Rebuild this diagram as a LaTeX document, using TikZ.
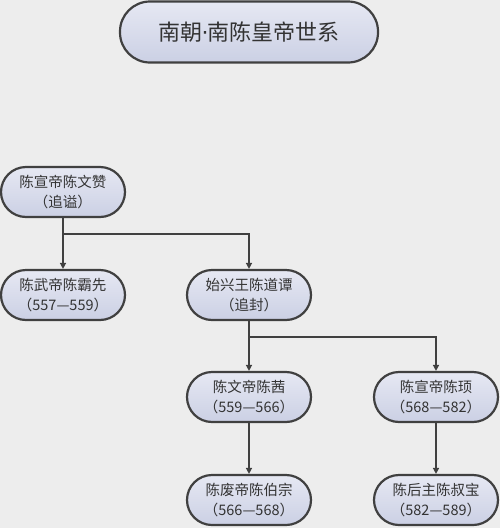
\documentclass[tikz,border=0pt]{standalone}
\usepackage{fontspec}
\setmainfont{Noto Sans CJK SC}
\newfontfamily\latinfont{DejaVu Sans}
\usetikzlibrary{arrows.meta}
\definecolor{bg}{HTML}{EDEDED}
\definecolor{edge}{HTML}{404040}
\definecolor{fillA}{HTML}{E6E8F3}
\definecolor{fillB}{HTML}{CBD0E4}
\tikzset{
  pill/.style={draw=edge, line width=2.2pt, rounded corners=25pt, top color=fillA, bottom color=fillB,
    minimum width=124pt, minimum height=50pt, inner sep=0pt, align=center, font=\fontsize{14.5pt}{20pt}\selectfont, text=black!80},
  titlebox/.style={pill, minimum width=258pt, minimum height=61pt, rounded corners=30pt, font=\fontsize{22pt}{26pt}\selectfont},
  conn/.style={draw=edge, line width=2pt},
  arr/.style={conn, -{Triangle[length=6pt,width=6pt]}}
}
\begin{document}
\begin{tikzpicture}[x=1pt,y=-1pt]
\fill[bg] (0,0) rectangle (500,528);
\useasboundingbox (0,0) rectangle (500,528);
\node[titlebox] (t) at (249,32) {南朝{\latinfont\kern-1pt·\kern-1pt}南陈皇帝世系};
\node[pill] (a) at (63,192) {陈宣帝陈文赞\\（追谥）};
\node[pill] (b) at (63,295) {陈武帝陈霸先\\（557—559）};
\node[pill] (c) at (249,295) {始兴王陈道谭\\（追封）};
\node[pill] (d) at (249,397) {陈文帝陈茜\\（559—566）};
\node[pill] (e) at (436,397) {陈宣帝陈顼\\（568—582）};
\node[pill] (f) at (249,500) {陈废帝陈伯宗\\（566—568）};
\node[pill] (g) at (436,500) {陈后主陈叔宝\\（582—589）};
\coordinate (j1) at (63,234);
\coordinate (j2) at (249,337);
\draw[conn] (a.south) -- (j1);
\draw[arr] (j1) -- (b.north);
\draw[arr] (j1) -| (c.north);
\draw[conn] (c.south) -- (j2);
\draw[arr] (j2) -- (d.north);
\draw[arr] (j2) -| (e.north);
\draw[arr] (d.south) -- (f.north);
\draw[arr] (e.south) -- (g.north);
\end{tikzpicture}
\end{document}
